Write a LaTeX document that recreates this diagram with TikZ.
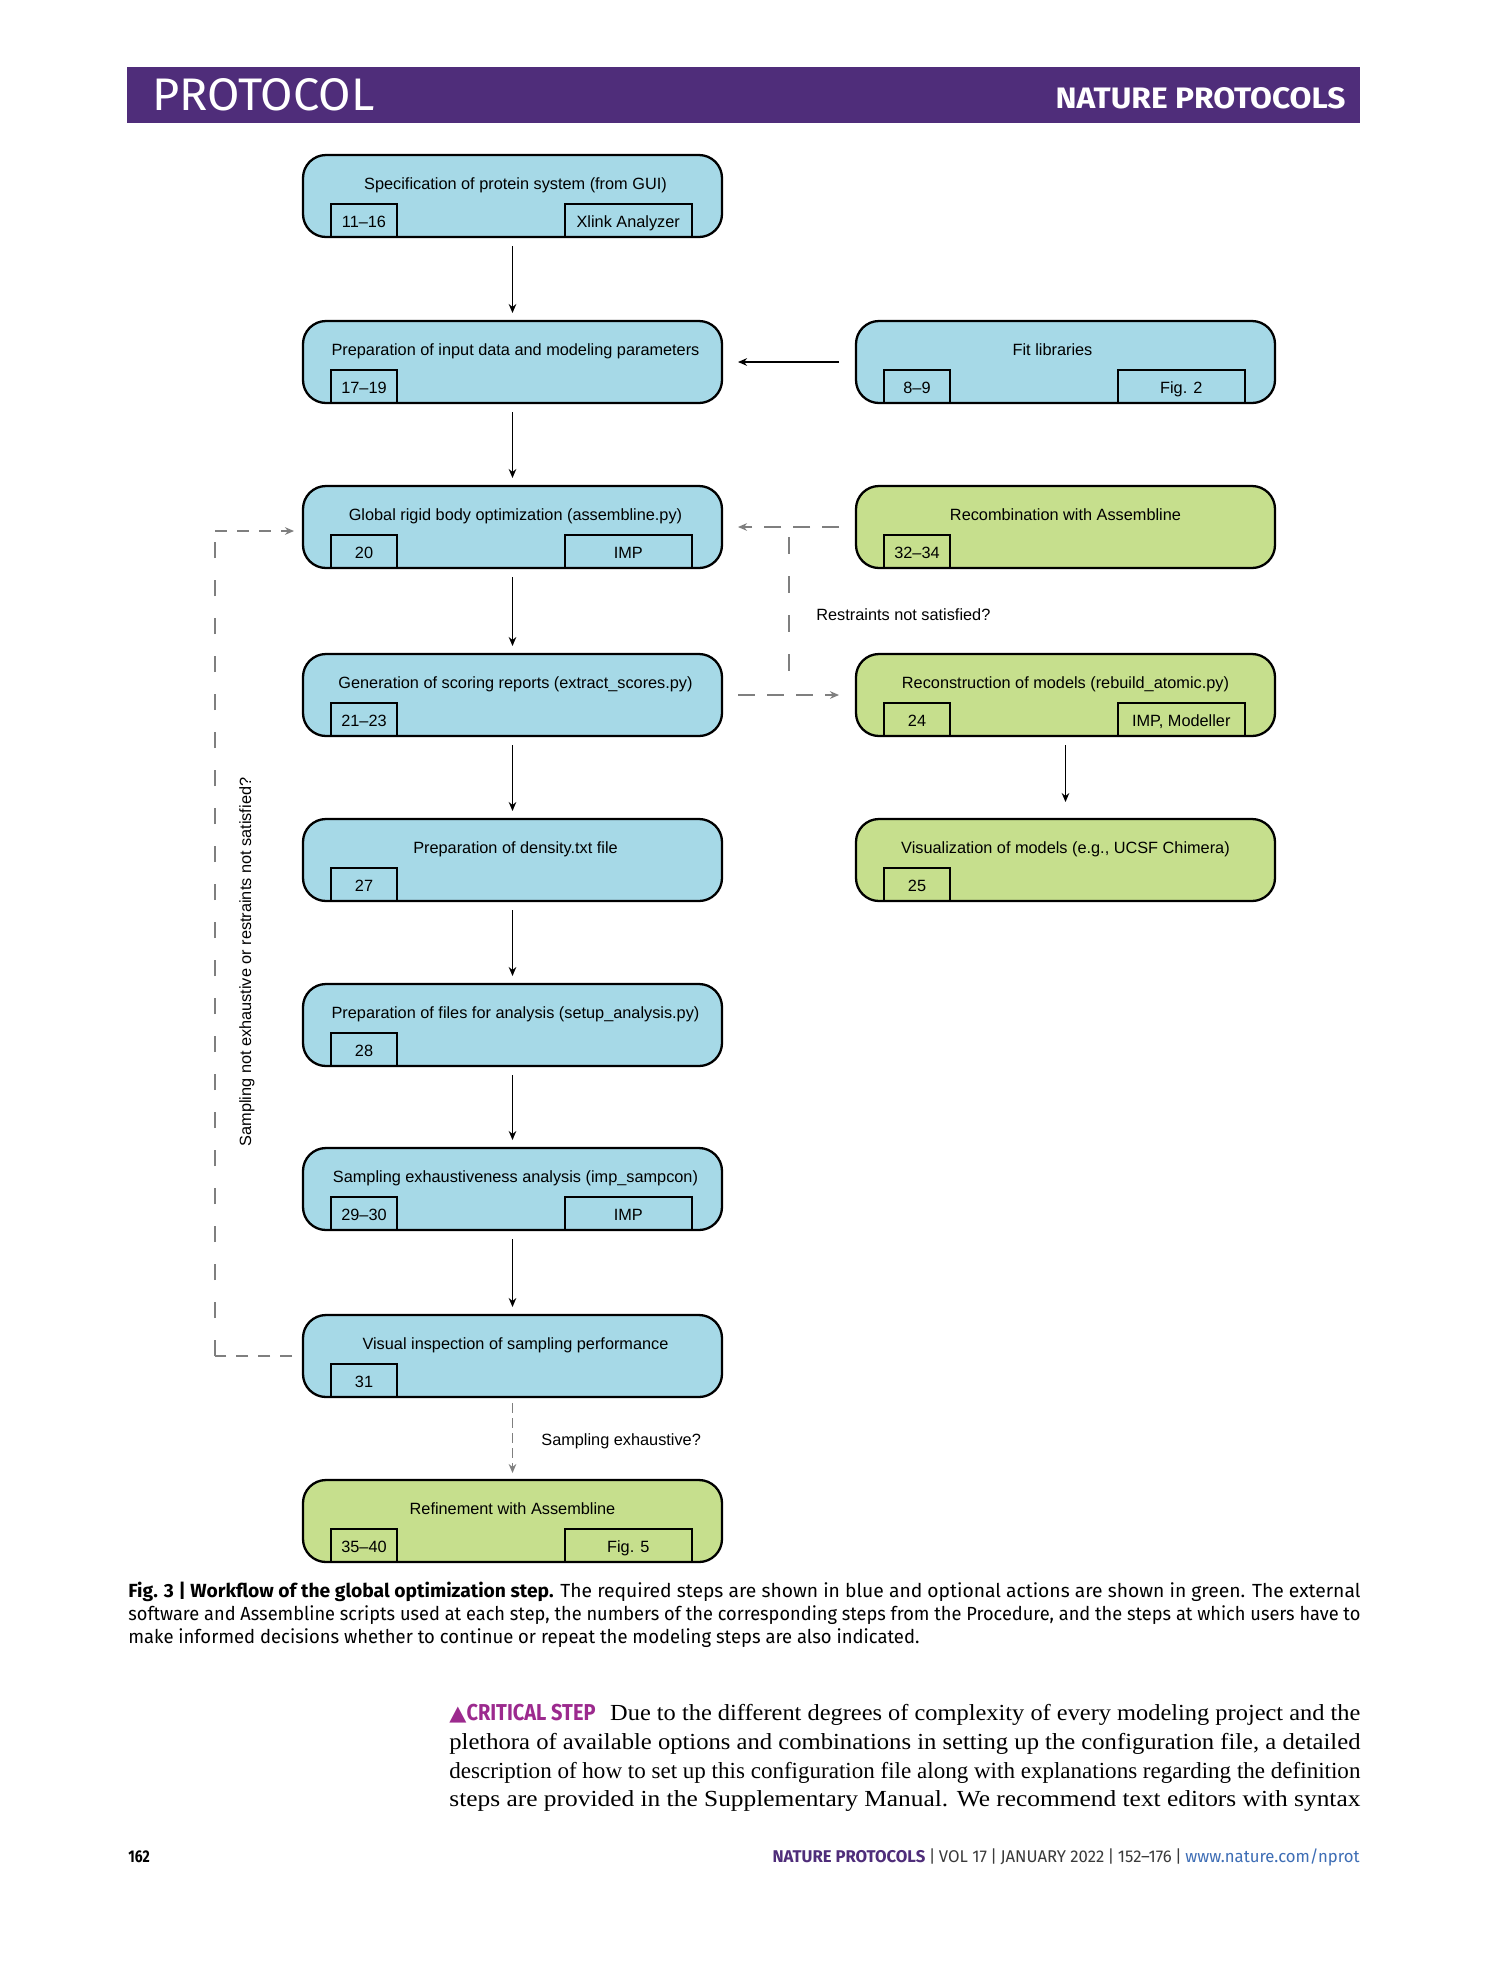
\documentclass[tikz,border=0pt]{standalone}
\usepackage{fontspec}
\usepackage{graphicx}
\setmainfont{Liberation Serif}
\newfontfamily\arialf{Liberation Sans}
\newfontfamily\capf[FakeStretch=0.82]{Fira Sans}
\newfontfamily\trif{DejaVu Sans}
\usetikzlibrary{arrows.meta,calc}
\definecolor{hdrpurple}{HTML}{4F2D7A}
\definecolor{boxblue}{HTML}{A6D9E7}
\definecolor{boxgreen}{HTML}{C6DF8D}
\definecolor{dgray}{HTML}{7F7F7F}
\definecolor{critmag}{HTML}{9C2A8E}
\definecolor{urlblue}{HTML}{3D6DB5}
\definecolor{footgray}{HTML}{3A3A3A}
\newcommand\boxf{\arialf\fontsize{8.15}{9.7}\selectfont}
% #1 name, #2 cx, #3 top, #4 fill, #5 title, #6 left tag, #7 right tag, #8 title x offset
\newcommand\fbx[8]{%
  \node[mainbox, fill=#4, anchor=north] (#1) at (#2,#3) {};
  \node[boxtext, anchor=base] (#1-t) at ($(#1.north)+(#8,34)$) {#5};
  \node[tagbox, anchor=south west] (#1-l) at ($(#1.south west)+(28,0)$) {#6};
  \ifx\relax#7\relax\else
  \node[tagbox, rtag, anchor=south east] (#1-r) at ($(#1.south east)+(-30,0)$) {#7};
  \fi
}
\begin{document}
\begin{tikzpicture}[x=0.5pt,y=-0.5pt,
  mainbox/.style={rectangle, rounded corners=11.5pt, draw=black, line width=1.15pt,
    minimum width=209.5pt, minimum height=41pt, inner sep=0pt, outer sep=0pt},
  boxtext/.style={font=\boxf, inner sep=0pt},
  tagbox/.style={rectangle, draw=black, line width=1pt, minimum width=33pt,
    minimum height=16.5pt, inner sep=0pt, outer sep=0pt, font=\boxf,
    text height=6.5pt, text depth=0pt},
  rtag/.style={minimum width=63.75pt},
  flow/.style={draw=black, line width=0.7pt, -{Stealth[length=4.5pt,width=3.8pt]}},
  optflow/.style={draw=dgray, line width=0.7pt, dash pattern=on 8.5pt off 6pt,
    -{Stealth[length=4.5pt,width=3.8pt]}},
  optline/.style={draw=dgray, line width=0.7pt, dash pattern=on 8.5pt off 6pt},
  lbl/.style={font=\boxf, inner sep=0pt},
  txt/.style={inner sep=0pt, anchor=base west}
]
\fill[white] (0,0) rectangle (1489,1978);
\useasboundingbox (0,0) rectangle (1489,1978);

% header
\fill[hdrpurple] (127,67) rectangle (1360,123);
\node[inner sep=0pt, anchor=base west, text=white] (hdrl) at (152,110)
  {\resizebox{111pt}{16pt}{\capf PROTOCOL}};
\node[inner sep=0pt, anchor=base east, text=white] (hdrr) at (1346,108)
  {\resizebox{145pt}{10.5pt}{\capf\bfseries NATURE PROTOCOLS}};

% left column
\fbx{b1}{512.5}{155}{boxblue}{Specification of protein system (from GUI)}{11–16}{Xlink Analyzer}{3}
\fbx{b2}{512.5}{321}{boxblue}{Preparation of input data and modeling parameters}{17–19}{}{3}
\fbx{b3}{512.5}{486}{boxblue}{Global rigid body optimization (assembline.py)}{20}{IMP}{3}
\fbx{b4}{512.5}{654}{boxblue}{Generation of scoring reports (extract\_scores.py)}{21–23}{}{3}
\fbx{b5}{512.5}{819}{boxblue}{Preparation of density.txt file}{27}{}{3}
\fbx{b6}{512.5}{984}{boxblue}{Preparation of files for analysis (setup\_analysis.py)}{28}{}{3}
\fbx{b7}{512.5}{1148}{boxblue}{Sampling exhaustiveness analysis (imp\_sampcon)}{29–30}{IMP}{3}
\fbx{b8}{512.5}{1315}{boxblue}{Visual inspection of sampling performance}{31}{}{3}
\fbx{b9}{512.5}{1480}{boxgreen}{Refinement with Assembline}{35–40}{Fig. 5}{0}

% right column
\fbx{fit}{1065.5}{321}{boxblue}{Fit libraries}{8–9}{Fig. 2}{-13}
\fbx{rc}{1065.5}{486}{boxgreen}{Recombination with Assembline}{32–34}{}{0}
\fbx{rm}{1065.5}{654}{boxgreen}{Reconstruction of models (rebuild\_atomic.py)}{24}{IMP, Modeller}{0}
\fbx{vz}{1065.5}{819}{boxgreen}{Visualization of models (e.g., UCSF Chimera)}{25}{}{0}

% required flow
\foreach \a/\b in {b1/b2,b2/b3,b3/b4,b4/b5,b5/b6,b6/b7,b7/b8}
  \draw[flow, shorten <=4.5pt, shorten >=4pt] (\a.south) -- (\b.north);
\draw[flow, shorten <=8.5pt, shorten >=8pt] (fit.west) -- (b2.east);
\draw[flow, shorten <=4.5pt, shorten >=8.5pt] (rm.south) -- (vz.north);

% optional flow
\coordinate (jn1) at (789,527);
\coordinate (jn2) at (789,690);
\draw[optflow, shorten <=8.5pt, shorten >=8pt] (rc.west) -- (b3.east);
\draw[optline, dash pattern=on 0pt off 5pt on 8.5pt off 6pt] (jn1) -- (jn2);
\draw[optflow, shorten <=8pt, shorten >=8.5pt] (b4.east) -- (rm.west);
\node[lbl, anchor=base west] (lrs) at (816,620) {Restraints not satisfied?};

\draw[optflow, dash pattern=on 5pt off 2.5pt, shorten <=3pt, shorten >=3.5pt] (b8.south) -- (b9.north);
\node[lbl, anchor=base west] (lse) at (541,1445) {Sampling exhaustive?};

\coordinate (lp1) at (215,1356);
\coordinate (lp2) at (215,531);
\draw[optline, dash pattern=on 6pt off 5pt] ($(b8.west)+(-11,0)$) -- (lp1);
\draw[optline, dash pattern=on 8pt off 11pt] (lp1) -- (lp2);
\draw[optflow, dash pattern=on 6pt off 5pt, shorten >=4.5pt] (lp2) -- ($(b3.west)+(0,4)$);
\node[lbl, rotate=90] (lvl) at (247,962) {Sampling not exhaustive or restraints not satisfied?};

% caption
\node[txt] (cap1) at (128,1597) {\resizebox{616pt}{\height}{\capf\fontsize{9.5}{11}\selectfont
  \textbf{Fig. 3 | Workflow of the global optimization step.} The required steps are shown in blue and optional actions are shown in green. The external}};
\node[txt] (cap2) at (128,1620) {\resizebox{616pt}{\height}{\capf\fontsize{9.5}{11}\selectfont
  software and Assembline scripts used at each step, the numbers of the corresponding steps from the Procedure, and the steps at which users have to}};
\node[txt] (cap3) at (128,1643) {\resizebox{395.5pt}{\height}{\capf\fontsize{9.5}{11}\selectfont
  make informed decisions whether to continue or repeat the modeling steps are also indicated.}};

% body text
\node[txt] (bd1) at (449,1720) {\resizebox{455.5pt}{\height}{\fontsize{11.5}{14}\selectfont
  {\color{critmag}{\trif\fontsize{10.5}{12}\selectfont ▲}{\capf\bfseries CRITICAL STEP}}\hspace{0.6em}Due to the different degrees of complexity of every modeling project and the}};
\node[txt] (bd2) at (449,1749) {\resizebox{455.5pt}{\height}{\fontsize{11.5}{14}\selectfont
  plethora of available options and combinations in setting up the configuration file, a detailed}};
\node[txt] (bd3) at (449,1778) {\resizebox{455.5pt}{\height}{\fontsize{11.5}{14}\selectfont
  description of how to set up this configuration file along with explanations regarding the definition}};
\node[txt] (bd4) at (449,1806) {\resizebox{455.5pt}{\height}{\fontsize{11.5}{14}\selectfont
  steps are provided in the Supplementary Manual. We recommend text editors with syntax}};

% footer
\node[txt] (pg) at (128,1862) {\capf\fontsize{8.5}{10}\selectfont\bfseries 162};
\node[inner sep=0pt, anchor=base east] (ft) at (1360,1862) {\resizebox{293.5pt}{\height}{\capf\fontsize{8.5}{10}\selectfont
  {\color{hdrpurple}\bfseries NATURE PROTOCOLS}{\color{footgray}\,|\,VOL 17\,|\,JANUARY 2022\,|\,152–176\,|\,}{\color{urlblue}www.nature.com/nprot}}};
\end{tikzpicture}
\end{document}
